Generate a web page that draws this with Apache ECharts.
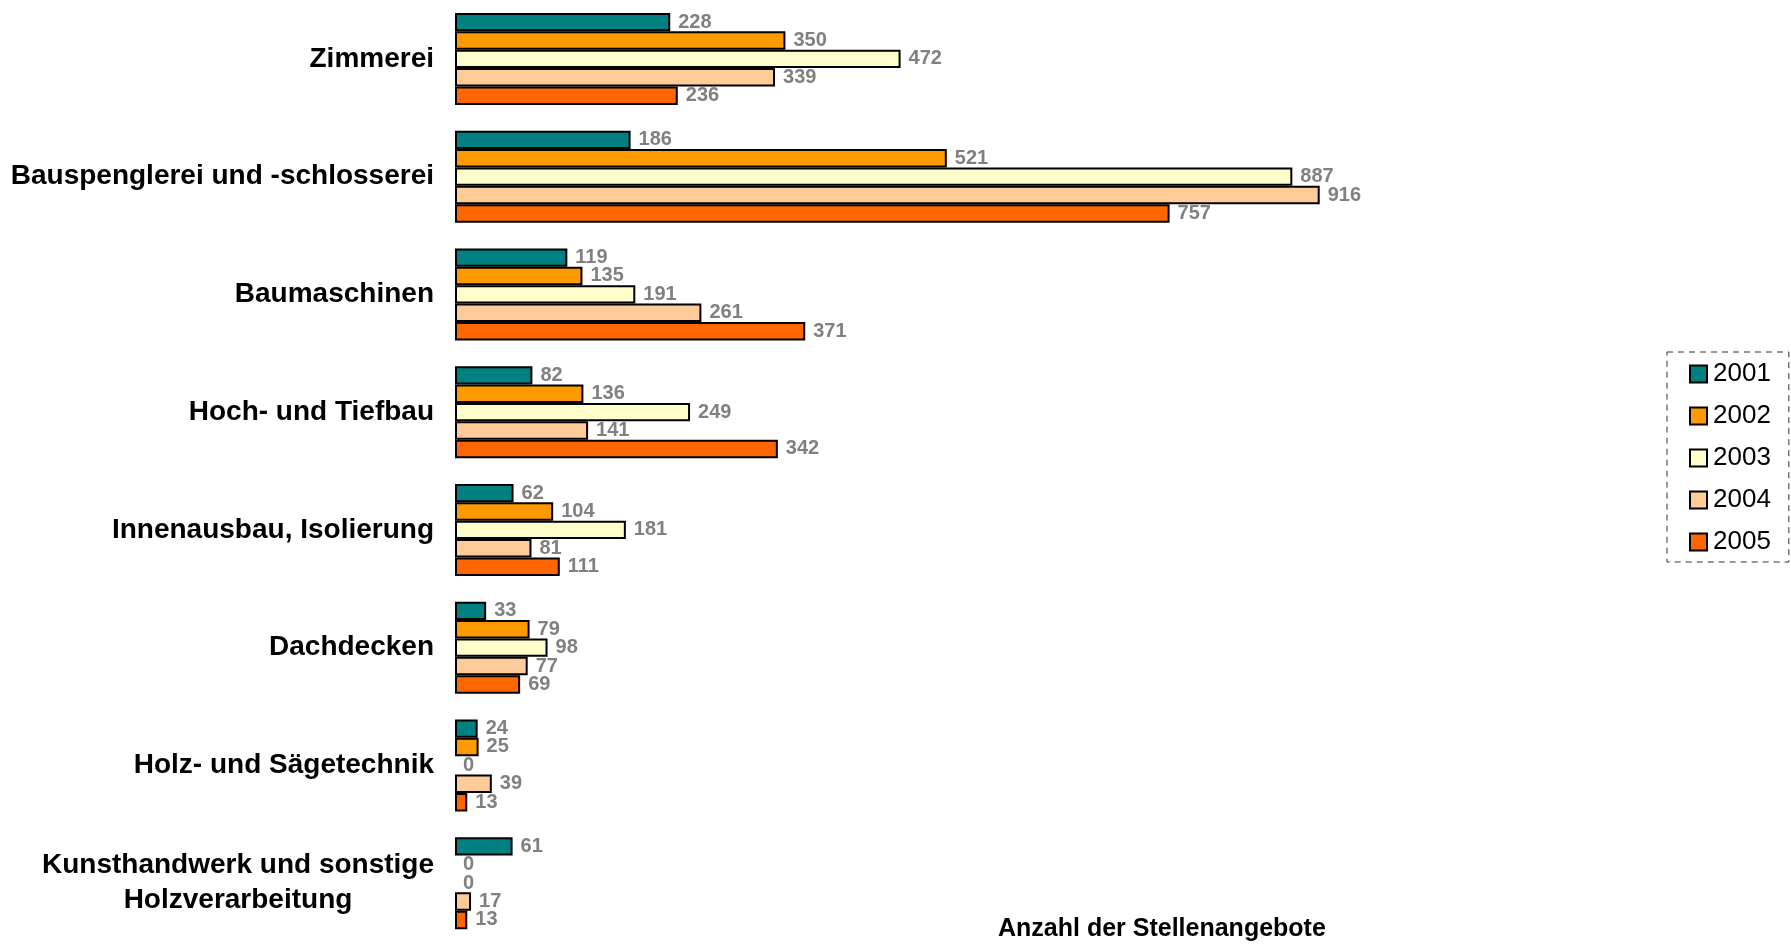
<!DOCTYPE html>
<html>
<head>
<meta charset="utf-8">
<title>Anzahl der Stellenangebote</title>
<script src="https://cdn.jsdelivr.net/npm/echarts@6/dist/echarts.min.js"></script>
<style>
  html, body { margin: 0; padding: 0; background: #ffffff; }
  #chart { width: 1791px; height: 946px; }
</style>
</head>
<body>
<div id="chart"></div>
<script>
// Trades (top to bottom)
const categories = [
  'Zimmerei',
  'Bauspenglerei und -schlosserei',
  'Baumaschinen',
  'Hoch- und Tiefbau',
  'Innenausbau, Isolierung',
  'Dachdecken',
  'Holz- und Sägetechnik',
  'Kunsthandwerk und sonstige\nHolzverarbeitung'
];

// Job offers per year, one value per trade
const years = ['2001', '2002', '2003', '2004', '2005'];
const values2001 = [228, 186, 119, 82, 62, 33, 24, 61];
const values2002 = [350, 521, 135, 136, 104, 79, 25, 0];
const values2003 = [472, 887, 191, 249, 181, 98, 0, 0];
const values2004 = [339, 916, 261, 141, 81, 77, 39, 17];
const values2005 = [236, 757, 371, 342, 111, 69, 13, 13];

const seriesValues = [values2001, values2002, values2003, values2004, values2005];
const colors = ['#008080', '#FF9900', '#FFFFCC', '#FFCC99', '#FF6600'];

const FONT = "'Liberation Sans', Arial, sans-serif";

const chart = echarts.init(document.getElementById('chart'), null, { renderer: 'canvas' });

const series = years.map((year, i) => ({
  name: year,
  type: 'bar',
  barWidth: 18.4,
  barGap: '0%',
  itemStyle: { color: colors[i], borderColor: '#000000', borderWidth: 2 },
  label: {
    show: true,
    position: 'right',
    distance: 8,
    color: '#808080',
    fontFamily: FONT,
    fontWeight: 'bold',
    fontSize: 20
  },
  // zero-length bars show only their label
  data: seriesValues[i].map(v => v === 0 ? { value: 0, itemStyle: { borderWidth: 0 } } : v)
}));

chart.setOption({
  animation: false,
  backgroundColor: '#ffffff',
  title: {
    text: 'Anzahl der Stellenangebote',
    left: 998,
    top: 917,
    padding: 0,
    textStyle: { fontFamily: FONT, fontWeight: 'bold', fontSize: 25, color: '#000000' }
  },
  legend: {
    orient: 'vertical',
    left: 1667,
    top: 352,
    padding: [9, 18, 7, 22],
    icon: 'rect',
    itemWidth: 17,
    itemHeight: 17,
    itemGap: 16,
    selectedMode: false,
    borderColor: '#333333',
    borderWidth: 1,
    borderType: [6, 5],
    itemStyle: { borderColor: '#000000', borderWidth: 2 },
    textStyle: { fontFamily: FONT, fontSize: 26, color: '#000000', lineHeight: 26, padding: [0, 0, 0, 1] },
    data: years
  },
  grid: { left: 455, top: -2, width: 944, height: 944, containLabel: false },
  xAxis: {
    type: 'value',
    min: 0,
    max: 1000,
    show: false
  },
  yAxis: {
    type: 'category',
    inverse: true,
    data: categories,
    axisLine: { show: false },
    axisTick: { show: false },
    axisLabel: {
      margin: 21,
      color: '#000000',
      fontFamily: FONT,
      fontWeight: 'bold',
      fontSize: 28,
      formatter: v => v.indexOf('\n') >= 0 ? '{c|' + v + '}' : v,
      rich: {
        c: {
          width: 392,
          align: 'center',
          lineHeight: 35,
          color: '#000000',
          fontFamily: FONT,
          fontWeight: 'bold',
          fontSize: 28
        }
      }
    }
  },
  series: series
});
</script>
</body>
</html>
